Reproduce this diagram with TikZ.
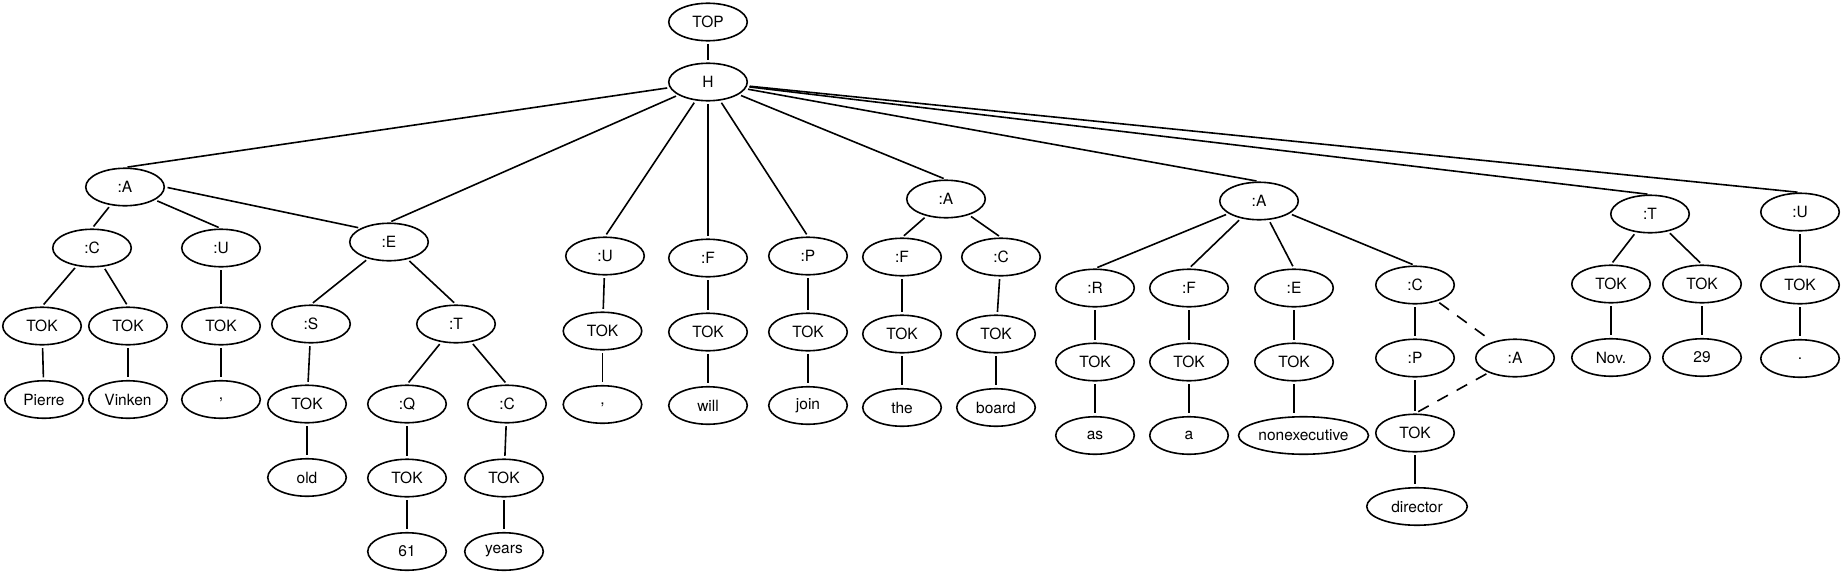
\documentclass[tikz,border=0pt]{standalone}
\usepackage{fontspec}
\setmainfont{TeX Gyre Heros}
\usepackage{tikz}
\usetikzlibrary{positioning, shapes.geometric}

\begin{document}
\begin{tikzpicture}[x=1pt, y=-1pt,
				TreeNode/.style={ellipse, draw, line width=1.6pt, minimum width=78.5pt, minimum height=37.5pt, inner sep=0pt, font=\fontsize{15.5}{18}\selectfont},
				TreeEdge/.style={line width=1.6pt, shorten >=2.5pt, shorten <=2.5pt},
				RemoteEdge/.style={TreeEdge, dash pattern=on 12pt off 10pt},
				node distance=34.4pt]

			\useasboundingbox (0,0) rectangle (1843,573);

			\node[TreeNode] (Top) at (708,22) {TOP};
			\node[TreeNode] (H) at (708,82) {H};

			% Pierre Vinken ,
			\node[TreeNode] (A1) at (125,187) {:A};
			\node[TreeNode] (C1) at (92,248) {:C};
			\node[TreeNode] (U1) at (221,248) {:U};
			\node[TreeNode] (K1) at (42,326) {TOK};
			\node[TreeNode] (K2) at (128,326) {TOK};
			\node[TreeNode] (K3) at (221,326) {TOK};
			\node[TreeNode] (W1) [below=of K1, xshift=2pt] {Pierre};
			\node[TreeNode] (W2) [below=of K2] {Vinken};
			\node[TreeNode] (W3) [below=of K3] {,};

			% 61 years old
			\node[TreeNode] (E1) at (389,242) {:E};
			\node[TreeNode] (S1) at (311,324) {:S};
			\node[TreeNode] (T1) at (456,324) {:T};
			\node[TreeNode] (K4) at (307,404) {TOK};
			\node[TreeNode] (W4) [below=of K4] {old};
			\node[TreeNode] (Q1) at (407,404) {:Q};
			\node[TreeNode] (C2) at (507,404) {:C};
			\node[TreeNode] (K5) at (407,478) {TOK};
			\node[TreeNode] (K6) at (504,478) {TOK};
			\node[TreeNode] (W5) [below=of K5] {61};
			\node[TreeNode] (W6) [below=of K6] {years};

			% , will join
			\node[TreeNode] (U2) at (605,256) {:U};
			\node[TreeNode] (K7) at (602.5,331) {TOK};
			\node[TreeNode] (W7) [below=of K7] {,};
			\node[TreeNode] (F1) at (708,258) {:F};
			\node[TreeNode] (K8) at (708,332) {TOK};
			\node[TreeNode] (W8) [below=of K8] {will};
			\node[TreeNode] (P1) at (808,256) {:P};
			\node[TreeNode] (K9) at (808,332) {TOK};
			\node[TreeNode] (W9) [below=of K9] {join};

			% the board
			\node[TreeNode] (A2) at (946,199) {:A};
			\node[TreeNode] (F2) at (902,257) {:F};
			\node[TreeNode] (C3) at (1001,257) {:C};
			\node[TreeNode] (K10) at (902,334) {TOK};
			\node[TreeNode] (K11) at (996,334) {TOK};
			\node[TreeNode] (W10) [below=of K10] {the};
			\node[TreeNode] (W11) [below=of K11] {board};

			% as a nonexecutive director
			\node[TreeNode] (A3) at (1259,201) {:A};
			\node[TreeNode] (R1) at (1095,288) {:R};
			\node[TreeNode] (F3) at (1189,288) {:F};
			\node[TreeNode] (E2) at (1294,288) {:E};
			\node[TreeNode] (C4) at (1415,285) {:C};
			\node[TreeNode] (K12) at (1095,362) {TOK};
			\node[TreeNode] (K13) at (1189,362) {TOK};
			\node[TreeNode] (K14) at (1294,362) {TOK};
			\node[TreeNode] (W12) [below=of K12] {as};
			\node[TreeNode] (W13) [below=of K13] {a};
			\node[TreeNode, minimum width=130pt] (W14) [below=of K14, xshift=9.5pt] {nonexecutive};
			\node[TreeNode] (P2) at (1415,358) {:P};
			\node[TreeNode] (A4) at (1515,358) {:A};
			\node[TreeNode] (K15) at (1415,433) {TOK};
			\node[TreeNode, minimum width=100.5pt] (W15) [below=of K15, xshift=2pt] {director};

			% Nov. 29 .
			\node[TreeNode] (T2) at (1650,214) {:T};
			\node[TreeNode] (K16) at (1611,284) {TOK};
			\node[TreeNode] (K17) at (1702,284) {TOK};
			\node[TreeNode] (W16) [below=of K16] {Nov.};
			\node[TreeNode] (W17) [below=of K17] {29};
			\node[TreeNode] (U3) at (1800,212) {:U};
			\node[TreeNode] (K18) at (1800,285) {TOK};
			\node[TreeNode] (W18) [below=of K18] {.};

			\draw[TreeEdge] (Top) -- (H);
			\draw[TreeEdge] (H) -- (A1.north);
			\draw[TreeEdge] (H) -- (E1.north);
			\draw[TreeEdge] (H) -- (U2.north);
			\draw[TreeEdge] (H) -- (F1.north);
			\draw[TreeEdge] (H) -- (P1.north);
			\draw[TreeEdge] (H) -- (A2.north);
			\draw[TreeEdge] (H) -- (A3.north);
			\draw[TreeEdge] (H) -- (T2.north);
			\draw[TreeEdge] (H) -- (U3.north);

			\draw[TreeEdge] (A1) -- (C1.north);
			\draw[TreeEdge] (A1) -- (U1.north);
			\draw[TreeEdge] (A1.east) -- (E1.north west);
			\draw[TreeEdge] (C1) -- (K1.north);
			\draw[TreeEdge] (C1) -- (K2.north);
			\draw[TreeEdge] (U1) -- (K3);
			\draw[TreeEdge] (K1) -- (W1);
			\draw[TreeEdge] (K2) -- (W2);
			\draw[TreeEdge] (K3) -- (W3);

			\draw[TreeEdge] (E1) -- (S1.north);
			\draw[TreeEdge] (E1) -- (T1.north);
			\draw[TreeEdge] (S1) -- (K4);
			\draw[TreeEdge] (K4) -- (W4);
			\draw[TreeEdge] (T1) -- (Q1.north);
			\draw[TreeEdge] (T1) -- (C2.north);
			\draw[TreeEdge] (Q1) -- (K5);
			\draw[TreeEdge] (C2) -- (K6);
			\draw[TreeEdge] (K5) -- (W5);
			\draw[TreeEdge] (K6) -- (W6);

			\draw[TreeEdge] (U2) -- (K7);
			\draw[TreeEdge] (K7) -- (W7);
			\draw[TreeEdge] (F1) -- (K8);
			\draw[TreeEdge] (K8) -- (W8);
			\draw[TreeEdge] (P1) -- (K9);
			\draw[TreeEdge] (K9) -- (W9);

			\draw[TreeEdge] (A2) -- (F2.north);
			\draw[TreeEdge] (A2) -- (C3.north);
			\draw[TreeEdge] (F2) -- (K10);
			\draw[TreeEdge] (C3) -- (K11);
			\draw[TreeEdge] (K10) -- (W10);
			\draw[TreeEdge] (K11) -- (W11);

			\draw[TreeEdge] (A3) -- (R1.north);
			\draw[TreeEdge] (A3) -- (F3.north);
			\draw[TreeEdge] (A3) -- (E2.north);
			\draw[TreeEdge] (A3) -- (C4.north);
			\draw[TreeEdge] (R1) -- (K12);
			\draw[TreeEdge] (F3) -- (K13);
			\draw[TreeEdge] (E2) -- (K14);
			\draw[TreeEdge] (K12) -- (W12);
			\draw[TreeEdge] (K13) -- (W13);
			\draw[TreeEdge] (K14.south) -- (K14.south |- W14.north);
			\draw[TreeEdge] (C4) -- (P2);
			\draw[TreeEdge] (P2) -- (K15);
			\draw[TreeEdge] (K15) -- (K15.south |- W15.north);
			\draw[RemoteEdge] (C4) -- (A4);
			\draw[RemoteEdge] (A4) -- (K15.north);

			\draw[TreeEdge] (T2) -- (K16.north);
			\draw[TreeEdge] (T2) -- (K17.north);
			\draw[TreeEdge] (K16) -- (W16);
			\draw[TreeEdge] (K17) -- (W17);
			\draw[TreeEdge] (U3) -- (K18);
			\draw[TreeEdge] (K18) -- (W18);
		\end{tikzpicture}
\end{document}
